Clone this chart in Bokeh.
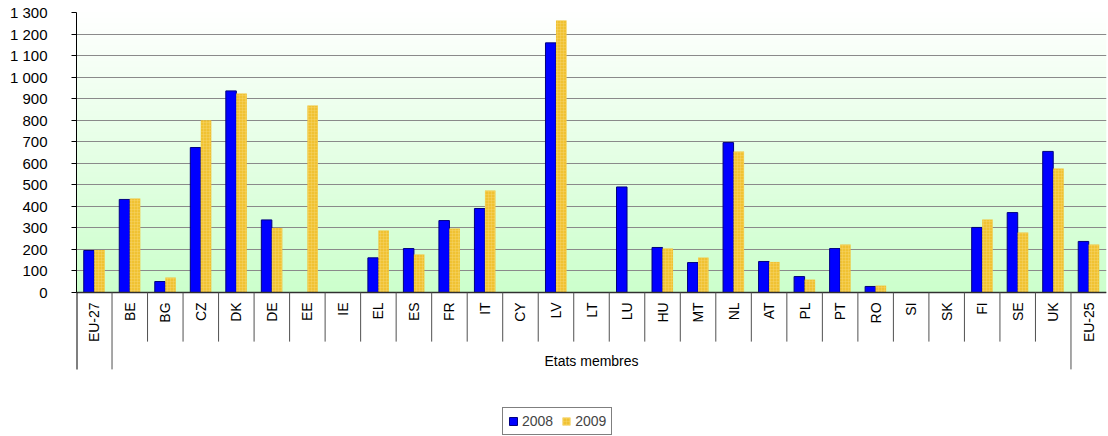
import math
import numpy as np
from bokeh.plotting import figure
from bokeh.models import (Range1d, FixedTicker, Legend, LegendItem)
from bokeh.core.properties import value
from bokeh.embed import file_html
from bokeh.resources import INLINE

categories = ["EU-27", "BE", "BG", "CZ", "DK", "DE", "EE", "IE", "EL", "ES", "FR",
              "IT", "CY", "LV", "LT", "LU", "HU", "MT", "NL", "AT", "PL", "PT",
              "RO", "SI", "SK", "FI", "SE", "UK", "EU-25"]
v2008 = [195, 432, 51, 673, 936, 337, None, None, 161, 204, 334, 390, None, 1159,
         None, 490, 209, 139, 696, 144, 74, 204, 28, None, None, 302, 371, 655, 237]
v2009 = [197, 436, 70, 800, 924, 300, 868, None, 288, 176, 297, 474, None, 1263,
         None, None, 204, 162, 655, 142, 60, 223, 32, None, None, 339, 279, 576, 223]
series_names = ["2008", "2009"]
y_ticks = list(range(0, 1400, 100))
group_label = "Etats membres"
group_span = ("BE", "UK")

FONT = "Liberation Sans"
n = len(categories)
Y_MIN = -668.6

p = figure(width=1108, height=436, output_backend="svg", toolbar_location=None,
           x_range=Range1d(0, n), y_range=Range1d(Y_MIN, 1300),
           x_axis_type=None, min_border_left=76, min_border_right=2,
           min_border_top=12, min_border_bottom=0)
p.outline_line_color = None
p.xgrid.visible = False

# gradient plot-area background
rows = 256
t = np.linspace(0, 1, rows)  # 0 bottom -> 1 top
r = (204 + (255 - 204) * t).astype(np.uint32)
g = np.full(rows, 255, dtype=np.uint32)
b = (204 + (255 - 204) * t).astype(np.uint32)
img = (255 << 24) | (b << 16) | (g << 8) | r
img = img.reshape(rows, 1).astype(np.uint32)
p.image_rgba(image=[img], x=0, y=0, dw=n, dh=1300, level="image")

# grid
p.ygrid.ticker = FixedTicker(ticks=y_ticks)
p.ygrid.grid_line_color = "#8a8a8a"
p.ygrid.grid_line_width = 1

# y axis
ax = p.yaxis[0]
ax.ticker = FixedTicker(ticks=y_ticks)
ax.bounds = (0, 1300)
ax.major_label_overrides = {v: (f"{v:,}".replace(",", " ")) for v in y_ticks}
ax.major_tick_in = 0
ax.major_tick_out = 5
ax.minor_tick_line_color = None
ax.axis_line_color = "black"
ax.major_tick_line_color = "black"
ax.major_label_standoff = 24
ax.major_label_text_font = FONT
ax.major_label_text_font_size = "15px"
ax.major_label_text_color = "black"

# bars
centers = [i + 0.5 for i in range(n)]
bw = 0.296
x08 = [c - bw / 2 for c, v in zip(centers, v2008) if v is not None]
t08 = [v for v in v2008 if v is not None]
x09 = [c + bw / 2 for c, v in zip(centers, v2009) if v is not None]
t09 = [v for v in v2009 if v is not None]
r08 = p.vbar(x=x08, top=t08, bottom=0, width=bw, fill_color="#0000FF",
             line_color="#000080", line_width=1)
r09 = p.vbar(x=x09, top=t09, bottom=0, width=bw, fill_color="#F0C232",
             line_color=None, hatch_pattern="+", hatch_color="#F8D870",
             hatch_alpha=0.4, hatch_scale=3, hatch_weight=1)

# x axis line at 0
p.segment(x0=[0], y0=[0], x1=[n], y1=[0], line_color="#303030", line_width=1.5)

# category separators
p.segment(x0=[0], y0=[0], x1=[0], y1=[-357], line_color="black", line_width=2)
long_idx = [1, n - 1]
short_idx = [i for i in range(2, n - 1)]
p.segment(x0=long_idx, y0=[0] * len(long_idx), x1=long_idx,
          y1=[-357] * len(long_idx), line_color="#505050", line_width=1)
p.segment(x0=short_idx, y0=[0] * len(short_idx), x1=short_idx,
          y1=[-228] * len(short_idx), line_color="#505050", line_width=1)

# category labels
p.text(x=centers, y=[-46] * n, text=categories, angle=math.pi / 2,
       text_align="right", text_baseline="middle", text_font=value(FONT),
       text_font_size="14px", text_color="black")

# group label
gi0 = categories.index(group_span[0])
gi1 = categories.index(group_span[1]) + 1
p.text(x=[(gi0 + gi1) / 2], y=[-316], text=[group_label], text_align="center",
       text_baseline="middle", text_font=value(FONT), text_font_size="14px",
       text_color="black")

legend = Legend(items=[LegendItem(label=series_names[0], renderers=[r08]),
                       LegendItem(label=series_names[1], renderers=[r09])],
                location=(426, 1), orientation="horizontal")
legend.border_line_color = "black"
legend.border_line_width = 1
legend.padding = 5
legend.spacing = 8
legend.margin = 0
legend.glyph_width = 10
legend.glyph_height = 10
legend.label_standoff = 4
legend.label_height = 12
legend.label_text_font = FONT
legend.label_text_font_size = "14px"
legend.background_fill_color = "white"
p.add_layout(legend)

open("out.html", "w").write(file_html(p, INLINE))
